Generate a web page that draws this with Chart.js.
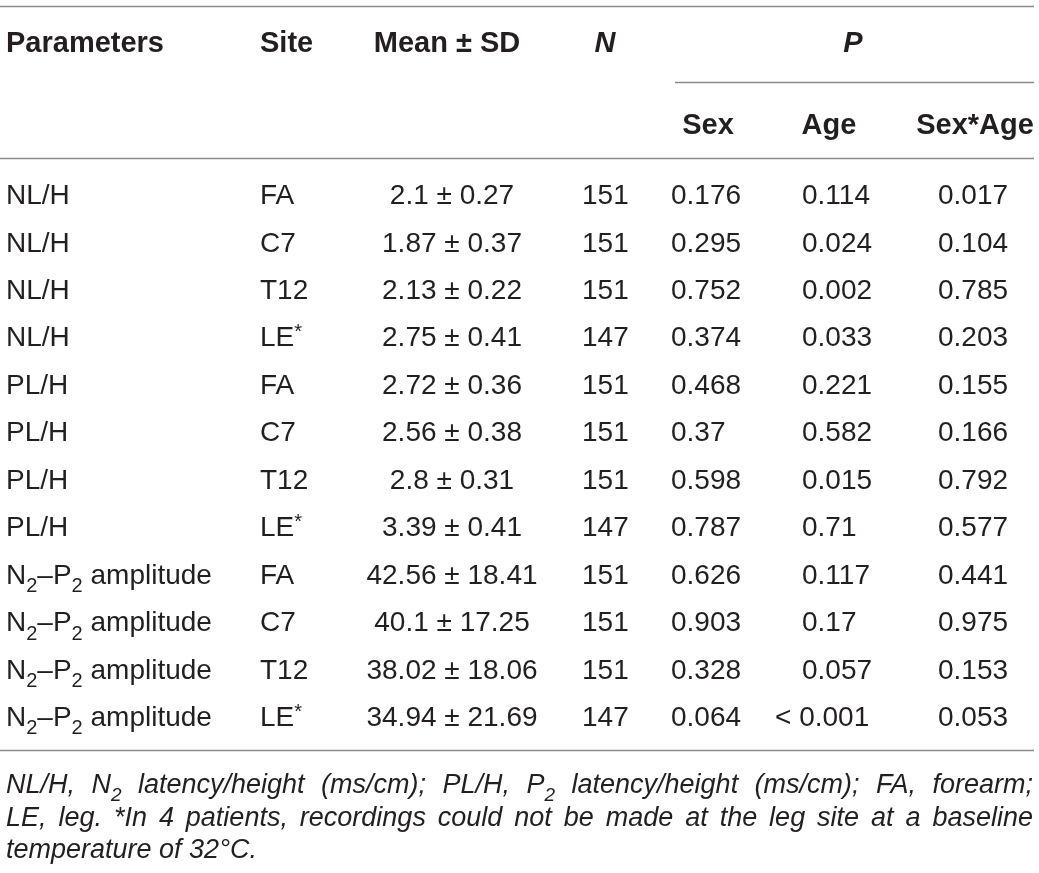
<!DOCTYPE html>
<html>
<head>
<meta charset="utf-8">
<script src="https://cdn.jsdelivr.net/npm/chart.js@4.4.0/dist/chart.umd.min.js"></script>
<style>
  html, body { margin: 0; padding: 0; background: #fff; }
  #wrap { width: 1039px; height: 873px; }
</style>
</head>
<body>
<div id="wrap"><canvas id="myChart" width="1039" height="873"></canvas></div>
<script>
// table values
var parameters = ['NL/H', 'NL/H', 'NL/H', 'NL/H', 'PL/H', 'PL/H', 'PL/H', 'PL/H',
    'N_{2}–P_{2} amplitude', 'N_{2}–P_{2} amplitude', 'N_{2}–P_{2} amplitude', 'N_{2}–P_{2} amplitude'];
var sites = ['FA', 'C7', 'T12', 'LE^{*}', 'FA', 'C7', 'T12', 'LE^{*}', 'FA', 'C7', 'T12', 'LE^{*}'];
var means = [2.1, 1.87, 2.13, 2.75, 2.72, 2.56, 2.8, 3.39, 42.56, 40.1, 38.02, 34.94];
var sds = [0.27, 0.37, 0.22, 0.41, 0.36, 0.38, 0.31, 0.41, 18.41, 17.25, 18.06, 21.69];
var nValues = [151, 151, 151, 147, 151, 151, 151, 147, 151, 151, 151, 147];
var pSex = ['0.176', '0.295', '0.752', '0.374', '0.468', '0.37', '0.598', '0.787', '0.626', '0.903', '0.328', '0.064'];
var pAge = ['0.114', '0.024', '0.002', '0.033', '0.221', '0.582', '0.015', '0.71', '0.117', '0.17', '0.057', '< 0.001'];
var pSexAge = ['0.017', '0.104', '0.785', '0.203', '0.155', '0.166', '0.792', '0.577', '0.441', '0.975', '0.153', '0.053'];

var headers = ['Parameters', 'Site', 'Mean ± SD', 'N', 'P'];
var subHeaders = ['Sex', 'Age', 'Sex*Age'];
var footnoteLines = [
    'NL/H, N_{2} latency/height (ms/cm); PL/H, P_{2} latency/height (ms/cm); FA, forearm;',
    'LE, leg. *In 4 patients, recordings could not be made at the leg site at a baseline',
    'temperature of 32°C.'
];

// layout (x in px units of the x scale, y in row units of the y scale)
var TEXT = '#231f20';
var RULE = '#8a8a8a';
var FONT = '"Liberation Sans", Arial, Helvetica, sans-serif';
var BODY = 28, HEAD = 29, NOTE = 27;
var rowStep = 47.45;
var firstRowPx = 194;
var yMin = -firstRowPx / rowStep;
var yMax = yMin + 873 / rowStep;
function rowOf(px) { return (px - firstRowPx) / rowStep; }

var columns = [
    { x: 6, align: 'left' },     // parameters
    { x: 260, align: 'left' },   // site
    { x: 452, align: 'center' }, // mean
    { x: 582, align: 'left' },   // N
    { x: 671, align: 'left' },   // sex
    { x: 802, align: 'left' },   // age
    { x: 938, align: 'left' }    // sex*age
];
var headerX = [6, 260, 447, 605, 853];
var headerAlign = ['left', 'left', 'center', 'center', 'center'];
var subHeaderX = [708, 829, 975];

var cellText = [
    parameters,
    sites,
    means.map(function (m, i) { return m + ' ± ' + sds[i]; }),
    nValues.map(String),
    pSex,
    pAge,
    pSexAge
];

// rich text: _{..} subscript, ^{..} superscript
function parseRich(str) {
    var segs = [];
    var re = /([_^])\{([^}]*)\}/g, last = 0, m;
    while ((m = re.exec(str)) !== null) {
        if (m.index > last) segs.push({ t: str.slice(last, m.index), k: '' });
        segs.push({ t: m[2], k: m[1] });
        last = re.lastIndex;
    }
    if (last < str.length) segs.push({ t: str.slice(last), k: '' });
    return segs;
}
function fontFor(style, size, k) {
    var s = k ? Math.round(size * 0.72) : size;
    return style + ' ' + s + 'px ' + FONT;
}
function richWidth(ctx, str, style, size) {
    var w = 0;
    parseRich(str).forEach(function (s) {
        ctx.font = fontFor(style, size, s.k);
        w += ctx.measureText(s.t).width;
    });
    return w;
}
function drawRich(ctx, str, x, y, align, style, size) {
    var w = richWidth(ctx, str, style, size);
    var cx = align === 'center' ? x - w / 2 : (align === 'right' ? x - w : x);
    var base = y + size * 0.36;
    ctx.textAlign = 'left';
    ctx.textBaseline = 'alphabetic';
    parseRich(str).forEach(function (s) {
        ctx.font = fontFor(style, size, s.k);
        var dy = s.k === '_' ? size * 0.3 : (s.k === '^' ? -size * 0.3 : 0);
        ctx.fillText(s.t, cx, base + dy);
        cx += ctx.measureText(s.t).width;
    });
}
function drawJustified(ctx, str, x0, x1, y, style, size) {
    var words = str.split(' ');
    var widths = words.map(function (w) { return richWidth(ctx, w, style, size); });
    var sum = widths.reduce(function (a, b) { return a + b; }, 0);
    var gap = (x1 - x0 - sum) / (words.length - 1);
    var x = x0;
    words.forEach(function (w, i) {
        drawRich(ctx, w, x, y, 'left', style, size);
        x += widths[i] + gap;
    });
}

var tablePlugin = {
    id: 'tablePlugin',
    afterDatasetsDraw: function (chart) {
        var ctx = chart.ctx;
        var xs = chart.scales.x, ys = chart.scales.y;
        ctx.save();
        ctx.fillStyle = TEXT;

        // rules
        ctx.strokeStyle = RULE;
        ctx.lineWidth = 1.5;
        function rule(x0, x1, px) {
            var y = Math.round(ys.getPixelForValue(rowOf(px))) + 0.5;
            ctx.beginPath();
            ctx.moveTo(xs.getPixelForValue(x0), y);
            ctx.lineTo(xs.getPixelForValue(x1), y);
            ctx.stroke();
        }
        rule(0, 1034, 6);
        rule(675, 1034, 82);
        rule(0, 1034, 158);
        rule(0, 1034, 750);

        // headers
        var hy = ys.getPixelForValue(rowOf(42));
        headers.forEach(function (h, i) {
            var style = (h === 'N' || h === 'P') ? 'italic bold' : 'bold';
            drawRich(ctx, h, xs.getPixelForValue(headerX[i]), hy, headerAlign[i], style, HEAD);
        });
        var sy = ys.getPixelForValue(rowOf(124));
        subHeaders.forEach(function (h, i) {
            drawRich(ctx, h, xs.getPixelForValue(subHeaderX[i]), sy, 'center', 'bold', HEAD);
        });

        // cells, placed at the dataset points
        chart.data.datasets.forEach(function (ds, c) {
            var meta = chart.getDatasetMeta(c);
            meta.data.forEach(function (pt, r) {
                var txt = cellText[c][r];
                if (txt.charAt(0) === '<') {
                    drawRich(ctx, txt, xs.getPixelForValue(775), pt.y, 'left', 'normal', BODY);
                    return;
                }
                drawRich(ctx, txt, pt.x, pt.y, columns[c].align, 'normal', BODY);
            });
        });

        // footnote
        var fy = [783, 816, 848];
        footnoteLines.forEach(function (line, i) {
            var y = ys.getPixelForValue(rowOf(fy[i]));
            if (i < footnoteLines.length - 1) {
                drawJustified(ctx, line, xs.getPixelForValue(6), xs.getPixelForValue(1033), y, 'italic', NOTE);
            } else {
                drawRich(ctx, line, xs.getPixelForValue(6), y, 'left', 'italic', NOTE);
            }
        });
        ctx.restore();
    }
};

var ctx = document.getElementById('myChart').getContext('2d');
var myChart = new Chart(ctx, {
    type: 'scatter',
    data: {
        datasets: columns.map(function (col, c) {
            return {
                label: 'col' + c,
                data: parameters.map(function (p, r) { return { x: col.x, y: r }; }),
                pointRadius: 0,
                showLine: false
            };
        })
    },
    options: {
        responsive: false,
        animation: false,
        devicePixelRatio: 1,
        layout: { padding: 0 },
        plugins: { legend: { display: false }, tooltip: { enabled: false } },
        scales: {
            x: { type: 'linear', min: 0, max: 1039, display: false },
            y: { type: 'linear', min: yMin, max: yMax, reverse: true, display: false }
        }
    },
    plugins: [tablePlugin]
});
</script>
</body>
</html>
